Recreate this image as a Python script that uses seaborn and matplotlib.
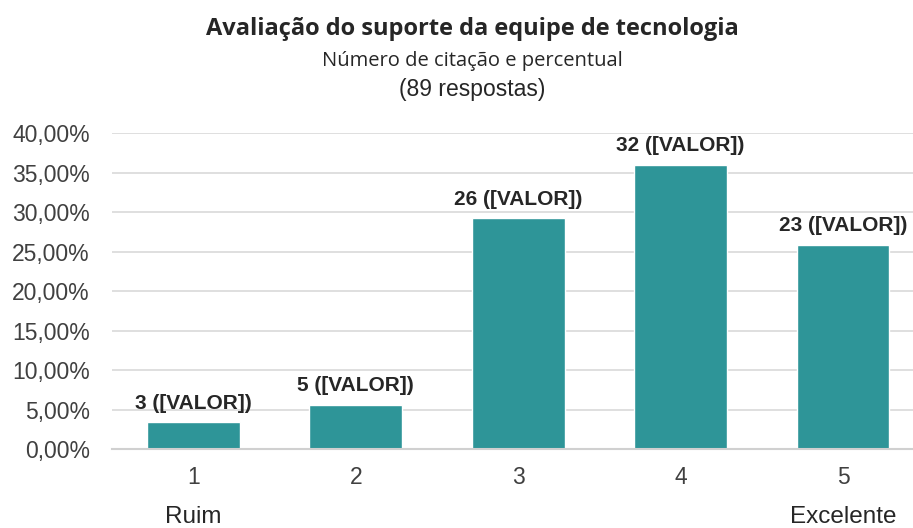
import matplotlib
matplotlib.use("Agg")
import matplotlib.pyplot as plt
import matplotlib.transforms as mtransforms
from matplotlib.ticker import FuncFormatter, MultipleLocator
import seaborn as sns
import pandas as pd

categories = ["1", "2", "3", "4", "5"]
counts = [3, 5, 26, 32, 23]
percents = [3.37, 5.62, 29.21, 35.96, 25.84]
bar_labels = ["3 ([VALOR])", "5 ([VALOR])", "26 ([VALOR])", "32 ([VALOR])", "23 ([VALOR])"]
end_labels = {0: "Ruim", 4: "Excelente"}

title = "Avaliação do suporte da equipe de tecnologia"
subtitle1 = "Número de citação e percentual"
subtitle2 = "(89 respostas)"

sns.set_theme(style="white")
plt.rcParams["font.family"] = ["Liberation Sans", "DejaVu Sans"]

df = pd.DataFrame({"cat": categories, "pct": percents})

fig = plt.figure(figsize=(9.13, 5.28), dpi=100)
ax = fig.add_axes([0.1227, 0.1496, 0.8773, 0.5985])

BAR = "#2E9598"
sns.barplot(data=df, x="cat", y="pct", color=BAR, width=0.57, saturation=1, ax=ax, zorder=3)

ax.set_ylim(0, 40)
ax.set_xlim(-0.5, 4.43)
ax.yaxis.set_major_locator(MultipleLocator(5))
ax.yaxis.set_major_formatter(FuncFormatter(lambda v, p: f"{v:.2f}".replace(".", ",") + "%"))
ax.grid(axis="y", color="#D9D9D9", linewidth=1.2, zorder=0)
ax.set_axisbelow(True)
for s in ["top", "right", "left"]:
    ax.spines[s].set_visible(False)
ax.spines["bottom"].set_color("#D0D0D0")
ax.spines["bottom"].set_linewidth(1.5)
ax.spines["bottom"].set_zorder(4)
ax.tick_params(axis="both", length=0, labelsize=16.5, colors="#404040", pad=12)
ax.tick_params(axis="y", pad=16)
ax.set_xlabel("")
ax.set_ylabel("")

for i, (p, lab) in enumerate(zip(percents, bar_labels)):
    ax.annotate(lab, (i, p), xytext=(0, 7), textcoords="offset points",
                ha="center", va="bottom", fontsize=15, fontweight="bold", color="#262626")

trans = mtransforms.blended_transform_factory(ax.transData, ax.transAxes)
for i, lab in end_labels.items():
    ax.text(i, -0.215, lab, transform=trans, ha="center", va="center", fontsize=17.5, color="#262626")

fig.text(0.517, 0.946, title, ha="center", va="center", fontsize=17, fontweight="bold",
         color="#262626", family=["Open Sans", "DejaVu Sans"])
fig.text(0.517, 0.884, subtitle1, ha="center", va="center", fontsize=14.5,
         color="#262626", family=["Open Sans", "DejaVu Sans"])
fig.text(0.517, 0.831, subtitle2, ha="center", va="center", fontsize=16.5, color="#262626")

fig.savefig("out.png", dpi=100)
